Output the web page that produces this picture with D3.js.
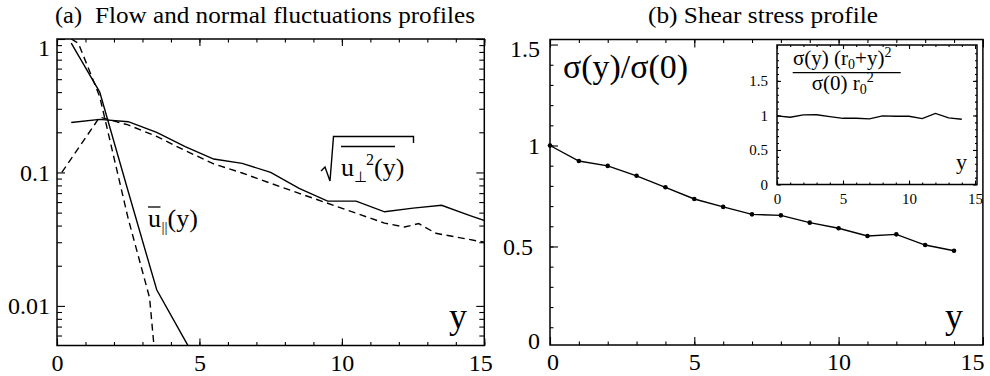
<!DOCTYPE html>
<html><head><meta charset="utf-8">
<script src="https://cdn.jsdelivr.net/npm/d3@7"></script>
<style>
body{margin:0;background:#fff}
svg{display:block}
</style>
</head><body>
<script>
// ---------- Panel (a) data ----------
const uParSolidX = [0.5, 1.5, 2.5, 3.5, 4.5, 5.5];
const uParSolid  = [0.93, 0.40, 0.072, 0.0132, 0.0055, 0.0023];
const uParDashX  = [0.5, 0.75, 1.5, 2.5, 3.25, 3.5];
const uParDashed = [1.0, 0.93, 0.37, 0.045, 0.0115, 0.003];
const uPerpSolidX = [0.5,1.5,2.5,3.5,4.5,5.5,6.5,7.5,8.5,9.5,10.5,11.5,12.5,13.5,14.5,15.5];
const uPerpSolid  = [0.237,0.25,0.24,0.2,0.156,0.126,0.117,0.1,0.076,0.061,0.061,0.0507,0.054,0.0568,0.0475,0.040];
const uPerpDashX  = [0.17,1.5,2.5,3.5,4.5,5.5,6.5,7.5,8.5,9.5,10.5,11.5,12.2,12.7,13.3,15];
const uPerpDashed = [0.1,0.26,0.227,0.186,0.146,0.116,0.099,0.083,0.0697,0.0588,0.0495,0.0417,0.039,0.0414,0.035,0.030];
const aXTicks = [0,5,10,15];
const aYTicks = [0.01,0.1,1];
const aYLabels = ["0.01","0.1","1"];

// ---------- Panel (b) data ----------
const sigmaX = [0,1,2,3,4,5,6,7,8,9,10,11,12,13,14];
const sigma  = [1.0,0.923,0.899,0.85,0.793,0.735,0.696,0.659,0.654,0.618,0.59,0.552,0.56,0.507,0.479];
const insetVals = [0.993,0.974,1.007,1.01,0.983,0.959,0.959,0.949,0.993,0.988,0.988,0.954,1.03,0.964,0.945];
const bXTicks = [0,5,10,15];
const bYTicks = [0,0.5,1,1.5];
const bYLabels = ["0","0.5","1","1.5"];
const inYTicks = [0,0.5,1,1.5];
const inYLabels = ["0","0.5","1","1.5"];

// pick an installed serif face if any
function hasFont(name){
  const c = document.createElement("canvas").getContext("2d");
  const s = "mmmmmmmmmmlli10σ(y)WQ";
  const res = ["monospace","sans-serif"].some(base=>{
    c.font = "40px " + base; const w0 = c.measureText(s).width;
    c.font = `40px "${name}", ${base}`; const w1 = c.measureText(s).width;
    return Math.abs(w0-w1) > 0.5;
  });
  return res;
}
const serifCandidates = ["Liberation Serif","DejaVu Serif","Noto Serif","Times New Roman","Tinos","FreeSerif","Nimbus Roman","Nimbus Roman No9 L","Times"];
const found = serifCandidates.find(hasFont);
const FONT = found ? `"${found}", serif` : '"Liberation Sans", "DejaVu Sans", sans-serif';

const W = 990, H = 376;
const svg = d3.select("body").append("svg").attr("width", W).attr("height", H)
  .style("font-family", FONT);

function styleAxis(g, fs){
  g.attr("font-family",FONT);
  g.select(".domain").remove();
  g.selectAll("line").attr("stroke","#000").attr("stroke-width",1.1);
  g.selectAll("text").attr("font-family",FONT).attr("font-size",fs).attr("fill","#000");
}
function minorLog(domain){
  const out=[]; for(let e=-3;e<=0;e++) for(let m=2;m<=9;m++){const v=m*Math.pow(10,e); if(v>=domain[0]&&v<=domain[1]) out.push(v);} return out;
}
function fitText(sel, width){
  sel.attr("textLength",width).attr("lengthAdjust","spacingAndGlyphs");
}
function txt(x,y,fs){ return svg.append("text").attr("x",x).attr("y",y).attr("font-size",fs).attr("font-family",FONT).attr("fill","#000"); }

// =============== Panel (a) ===============
const xA = d3.scaleLinear([0,15],[57,484.3]);
const yA = d3.scaleLog([0.00505,1],[345.5,39]);
const gA = svg.append("g");
svg.append("clipPath").attr("id","clipA").append("rect")
  .attr("x",xA.range()[0]).attr("y",yA.range()[1])
  .attr("width",xA.range()[1]-xA.range()[0]).attr("height",yA.range()[0]-yA.range()[1]);

const fmtA = d => aYLabels[aYTicks.indexOf(d)];
gA.append("g").attr("transform",`translate(0,${yA.range()[0]})`)
  .call(d3.axisBottom(xA).tickValues(d3.range(0,16)).tickSize(-3.5).tickFormat("")).call(g=>styleAxis(g,24));
const axAB = gA.append("g").attr("transform",`translate(0,${yA.range()[0]})`)
  .call(d3.axisBottom(xA).tickValues(aXTicks).tickSizeInner(-7).tickSizeOuter(0).tickPadding(8).tickFormat(d3.format("d"))).call(g=>styleAxis(g,24));
axAB.selectAll(".tick").filter(d=>d===15).select("text").attr("x",-4);
gA.append("g").attr("transform",`translate(0,${yA.range()[1]})`)
  .call(d3.axisTop(xA).tickValues(d3.range(0,16)).tickSize(-3.5).tickFormat("")).call(g=>styleAxis(g,24));
gA.append("g").attr("transform",`translate(0,${yA.range()[1]})`)
  .call(d3.axisTop(xA).tickValues(aXTicks).tickSize(-7).tickFormat("")).call(g=>styleAxis(g,24));
gA.append("g").attr("transform",`translate(${xA.range()[0]},0)`)
  .call(d3.axisLeft(yA).tickValues(minorLog(yA.domain())).tickSize(-5).tickFormat("")).call(g=>styleAxis(g,24));
const axAL = gA.append("g").attr("transform",`translate(${xA.range()[0]},0)`)
  .call(d3.axisLeft(yA).tickValues(aYTicks).tickSizeInner(-8).tickSizeOuter(0).tickPadding(7).tickFormat(fmtA)).call(g=>styleAxis(g,24));
axAL.selectAll(".tick").filter(d=>d===1).select("text").attr("y",9);
gA.append("g").attr("transform",`translate(${xA.range()[1]},0)`)
  .call(d3.axisRight(yA).tickValues(minorLog(yA.domain())).tickSize(-5).tickFormat("")).call(g=>styleAxis(g,24));
gA.append("g").attr("transform",`translate(${xA.range()[1]},0)`)
  .call(d3.axisRight(yA).tickValues(aYTicks).tickSize(-8).tickFormat("")).call(g=>styleAxis(g,24));

const lineA = d3.line().x(d=>xA(d[0])).y(d=>yA(d[1]));
const curvesA = [
  {x:uParSolidX, y:uParSolid, dash:null},
  {x:uParDashX, y:uParDashed, dash:"7,4.5"},
  {x:uPerpSolidX, y:uPerpSolid, dash:null},
  {x:uPerpDashX, y:uPerpDashed, dash:"7,4.5"}
];
const cA = gA.append("g").attr("clip-path","url(#clipA)");
curvesA.forEach(c=>{
  cA.append("path").datum(c.x.map((v,i)=>[v,c.y[i]])).attr("d",lineA)
    .attr("fill","none").attr("stroke","#000").attr("stroke-width",1.4)
    .attr("stroke-dasharray",c.dash);
});
gA.append("rect").attr("x",xA.range()[0]).attr("y",yA.range()[1])
  .attr("width",xA.range()[1]-xA.range()[0]).attr("height",yA.range()[0]-yA.range()[1])
  .attr("fill","none").attr("stroke","#000").attr("stroke-width",1.5);

// titles & labels (a)
txt(55,23,23).text("(a)").call(fitText,27);
txt(95,23,23).text("Flow and normal fluctuations profiles").call(fitText,380);
txt(467,328,36).attr("text-anchor","end").text("y");

// u_par label
{
  const ax = 148, ay = 227;
  const t = txt(ax,ay,26);
  t.append("tspan").text("u");
  t.append("tspan").attr("font-size",15).attr("dy",5).attr("dx",0.5).text("||");
  t.append("tspan").attr("dy",-5).text("(y)");
  svg.append("line").attr("x1",ax).attr("x2",ax+12.5).attr("y1",ay-20).attr("y2",ay-20)
    .attr("stroke","#000").attr("stroke-width",1.3);
}
// sqrt label
{
  const ax = 341, ay = 176;
  const t = txt(ax,ay,26);
  t.append("tspan").text("u");
  t.append("tspan").attr("font-size",15).attr("dy",6).text("\u22A5");
  t.append("tspan").attr("font-size",16).attr("dy",-17).attr("dx",-1).text("2");
  t.append("tspan").attr("font-size",26).attr("dy",11).text("(y)");
  svg.append("line").attr("x1",ax).attr("x2",ax+54).attr("y1",ay-29.5).attr("y2",ay-29.5)
    .attr("stroke","#000").attr("stroke-width",1.3);
  svg.append("path").attr("d",`M${ax-20},${ay-5} L${ax-16},${ay-9} L${ax-11},${ay+5} L${ax-7.5},${ay-39.5} H${ax+72.5} V${ay-33}`)
    .attr("fill","none").attr("stroke","#000").attr("stroke-width",1.4);
}

// =============== Panel (b) ===============
const xB = d3.scaleLinear([0,15],[550,982.9]);
const yB = d3.scaleLinear([0.012,1.525],[345,39.5]);
const gB = svg.append("g");
const fmtB = d => bYLabels[bYTicks.indexOf(d)];
gB.append("g").attr("transform",`translate(0,${yB.range()[0]})`)
  .call(d3.axisBottom(xB).tickValues(d3.range(0,16)).tickSize(-3.5).tickFormat("")).call(g=>styleAxis(g,24));
const axBB = gB.append("g").attr("transform",`translate(0,${yB.range()[0]})`)
  .call(d3.axisBottom(xB).tickValues(bXTicks).tickSizeInner(-8).tickSizeOuter(0).tickPadding(8).tickFormat(d3.format("d"))).call(g=>styleAxis(g,24));
axBB.selectAll(".tick").filter(d=>d===15).select("text").attr("x",-11);
axBB.selectAll(".tick").filter(d=>d===0).select("text").attr("x",2.5);
gB.append("g").attr("transform",`translate(0,${yB.range()[1]})`)
  .call(d3.axisTop(xB).tickValues(d3.range(0,16)).tickSize(-3.5).tickFormat("")).call(g=>styleAxis(g,24));
gB.append("g").attr("transform",`translate(0,${yB.range()[1]})`)
  .call(d3.axisTop(xB).tickValues(bXTicks).tickSize(-8).tickFormat("")).call(g=>styleAxis(g,24));
gB.append("g").attr("transform",`translate(${xB.range()[0]},0)`)
  .call(d3.axisLeft(yB).tickValues(d3.range(1,15).map(i=>i/10)).tickSize(-3.5).tickFormat("")).call(g=>styleAxis(g,24));
const axBL = gB.append("g").attr("transform",`translate(${xB.range()[0]},0)`)
  .call(d3.axisLeft(yB).tickValues(bYTicks).tickSizeInner(-8).tickSizeOuter(0).tickPadding(10).tickFormat(fmtB)).call(g=>styleAxis(g,24));
axBL.selectAll(".tick").filter(d=>d===1.5).select("text").attr("y",4);
axBL.selectAll(".tick").filter(d=>d===0).select("text").attr("y",-7);
axBL.selectAll(".tick").filter(d=>d===0).select("line").remove();
axBL.selectAll(".tick").filter(d=>d===0.5).select("text").attr("x",-17);

const lineB = d3.line().x(d=>xB(d[0])).y(d=>yB(d[1]));
const dataB = sigmaX.map((v,i)=>[v,sigma[i]]);
gB.append("path").datum(dataB).attr("d",lineB).attr("fill","none").attr("stroke","#000").attr("stroke-width",1.4);
gB.selectAll("circle.pt").data(dataB).join("circle").attr("class","pt")
  .attr("cx",d=>xB(d[0])).attr("cy",d=>yB(d[1])).attr("r",2.3).attr("fill","#000");
gB.append("rect").attr("x",xB.range()[0]).attr("y",yB.range()[1])
  .attr("width",xB.range()[1]-xB.range()[0]).attr("height",yB.range()[0]-yB.range()[1])
  .attr("fill","none").attr("stroke","#000").attr("stroke-width",1.5);

txt(648,23,23).text("(b) Shear stress profile").call(fitText,230);
txt(563,78,34).text("\u03C3(y)/\u03C3(0)").call(fitText,125);
txt(963,328,36).attr("text-anchor","end").text("y");

// =============== Inset ===============
const xI = d3.scaleLinear([0,15.15],[777,977]);
const yI = d3.scaleLinear([0,2.02],[184.5,45]);
const gI = svg.append("g");
gI.append("rect").attr("x",xI.range()[0]).attr("y",yI.range()[1])
  .attr("width",xI.range()[1]-xI.range()[0]).attr("height",yI.range()[0]-yI.range()[1])
  .attr("fill","#fff").attr("stroke","none");
const fmtI = d => inYLabels[inYTicks.indexOf(d)];
gI.append("g").attr("transform",`translate(0,${yI.range()[0]})`)
  .call(d3.axisBottom(xI).tickValues(d3.range(0,16)).tickSize(-2).tickFormat("")).call(g=>styleAxis(g,15));
gI.append("g").attr("transform",`translate(0,${yI.range()[0]})`)
  .call(d3.axisBottom(xI).tickValues(bXTicks).tickSizeInner(-4).tickSizeOuter(0).tickPadding(9).tickFormat(d3.format("d"))).call(g=>styleAxis(g,15));
gI.append("g").attr("transform",`translate(0,${yI.range()[1]})`)
  .call(d3.axisTop(xI).tickValues(d3.range(0,16)).tickSize(-2).tickFormat("")).call(g=>styleAxis(g,15));
gI.append("g").attr("transform",`translate(0,${yI.range()[1]})`)
  .call(d3.axisTop(xI).tickValues(bXTicks).tickSize(-4).tickFormat("")).call(g=>styleAxis(g,15));
gI.append("g").attr("transform",`translate(${xI.range()[0]},0)`)
  .call(d3.axisLeft(yI).tickValues(d3.range(1,20).map(i=>i/10)).tickSize(-2).tickFormat("")).call(g=>styleAxis(g,15));
gI.append("g").attr("transform",`translate(${xI.range()[0]},0)`)
  .call(d3.axisLeft(yI).tickValues(inYTicks).tickSizeInner(-4).tickSizeOuter(0).tickPadding(9).tickFormat(fmtI)).call(g=>styleAxis(g,15));
gI.append("g").attr("transform",`translate(${xI.range()[1]},0)`)
  .call(d3.axisRight(yI).tickValues(d3.range(1,20).map(i=>i/10)).tickSize(-2).tickFormat("")).call(g=>styleAxis(g,15));
gI.append("g").attr("transform",`translate(${xI.range()[1]},0)`)
  .call(d3.axisRight(yI).tickValues(inYTicks).tickSize(-4).tickFormat("")).call(g=>styleAxis(g,15));

const lineI = d3.line().x(d=>xI(d[0])).y(d=>yI(d[1]));
gI.append("path").datum(sigmaX.map((v,i)=>[v,insetVals[i]])).attr("d",lineI)
  .attr("fill","none").attr("stroke","#000").attr("stroke-width",1.3);
gI.append("rect").attr("x",xI.range()[0]).attr("y",yI.range()[1])
  .attr("width",xI.range()[1]-xI.range()[0]).attr("height",yI.range()[0]-yI.range()[1])
  .attr("fill","none").attr("stroke","#000").attr("stroke-width",1.5);

// fraction label
{
  const num = txt(793,65,21);
  num.append("tspan").text("\u03C3(y) (r");
  num.append("tspan").attr("font-size",14).attr("dy",4).text("0");
  num.append("tspan").attr("dy",-4).text("+y)");
  num.append("tspan").attr("font-size",14).attr("dy",-8).text("2");
  svg.append("line").attr("x1",792.7).attr("x2",900.7).attr("y1",72.7).attr("y2",72.7)
    .attr("stroke","#000").attr("stroke-width",1.2);
  const den = txt(811.7,90,21);
  den.append("tspan").text("\u03C3(0) r");
  den.append("tspan").attr("font-size",14).attr("dy",4).text("0");
  den.append("tspan").attr("font-size",14).attr("dy",-12).text("2");
  txt(967,169,22).attr("text-anchor","end").text("y");
}
</script>
</body></html>
